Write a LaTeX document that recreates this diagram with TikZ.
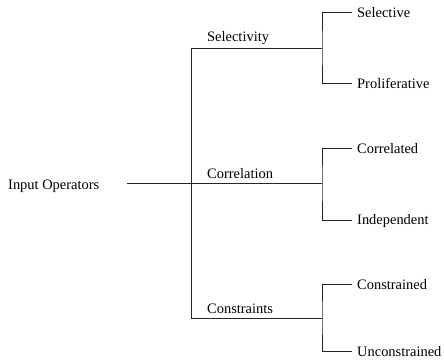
\documentclass[tikz,border=0pt]{standalone}
\usepackage{fontspec}
\setmainfont{Liberation Serif}
\usepackage{tikz}
\usetikzlibrary{positioning}

\tikzset{
  lbl/.style={inner sep=0pt, anchor=base west, font=\fontsize{14.5}{17}\selectfont},
  wire/.style={line width=0.9bp, black!85}
}

\begin{document}
\begin{tikzpicture}[x=1bp,y=-1bp]
\useasboundingbox (0,0) rectangle (444,362);

% root
\node[lbl] (root) at (8,189) {Input Operators};
\coordinate (rootend) at (127,183);

% trunk, one point per branch
\coordinate (sel) at (191,48);
\coordinate (cor) at (191,183);
\coordinate (con) at (191,318);
\draw[wire] (rootend) -- (cor);
\draw[wire] (sel) -- (con);

% branch ends
\coordinate (selfork) at (322,48);
\coordinate (corfork) at (322,183);
\coordinate (confork) at (322,318);
\draw[wire] (sel) -- (selfork);
\draw[wire] (cor) -- (corfork);
\draw[wire] (con) -- (confork);

\node[lbl] (selectivity) at (207,41) {Selectivity};
\node[lbl] (correlation) at (207,178) {Correlation};
\node[lbl] (constraints) at (207,313) {Constraints};

% leaves
\node[lbl] (selective) at (357,17) {Selective};
\node[lbl] (prolif) at (357,88) {Proliferative};
\node[lbl] (correlated) at (357,153) {Correlated};
\node[lbl] (indep) at (357,224) {Independent};
\node[lbl] (constrained) at (357,289) {Constrained};
\node[lbl] (unconstr) at (357,356) {Unconstrained};

\draw[wire] ([xshift=-5bp]selective.west) -| (selfork) |- ([xshift=-5bp]prolif.west);
\draw[wire] ([xshift=-5bp]correlated.west) -| (corfork) |- ([xshift=-5bp]indep.west);
\draw[wire] ([xshift=-5bp]constrained.west) -| (confork) |- ([xshift=-5bp]unconstr.west);

\end{tikzpicture}
\end{document}
